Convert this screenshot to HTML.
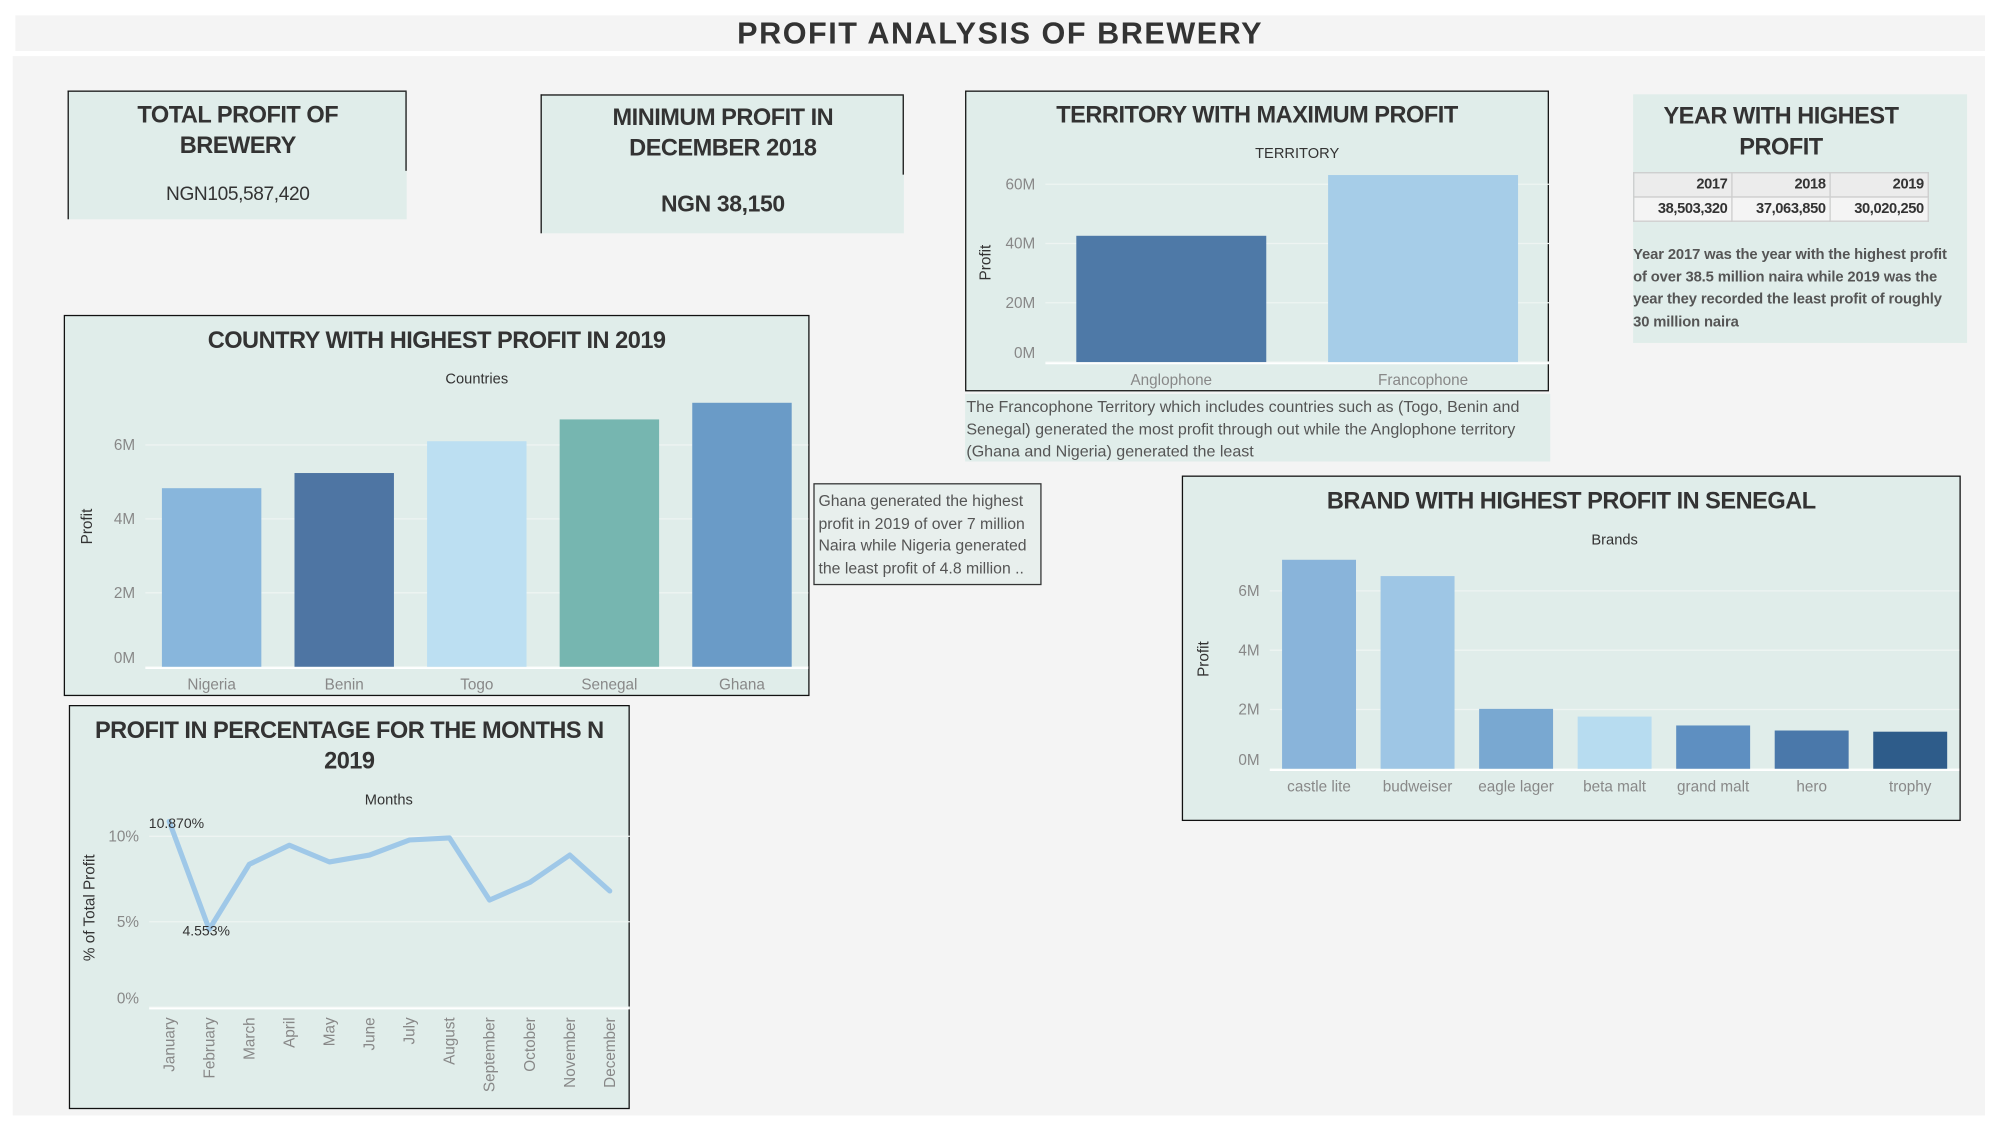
<!DOCTYPE html>
<html><head><meta charset="utf-8">
<style>
html,body{margin:0;padding:0;background:#fff;width:1999px;height:1124px;overflow:hidden}
#root{position:absolute;left:0;top:0;width:1568px;height:882px;transform:scale(1.27487);transform-origin:0 0;font-family:"Liberation Sans",sans-serif;color:#333}
.abs{position:absolute}
.card{position:absolute;background:#e0edea;box-sizing:border-box}
.t{position:absolute;left:-20px;right:-20px;text-align:center;font-weight:bold;font-size:18.5px;letter-spacing:-0.4px;color:#333;line-height:24px;white-space:nowrap}
.note{position:absolute;font-size:12.6px;line-height:17.5px;color:#555;box-sizing:border-box;padding:2px 3px;white-space:nowrap}
svg text{font-family:"Liberation Sans","DejaVu Sans",sans-serif}
</style></head><body>
<div id="root">
<div class="abs" style="left:12px;top:12px;width:1545px;height:28px;background:#f4f4f4"></div>
<div class="abs" style="left:12px;top:13px;width:1545px;text-align:center;font-weight:bold;font-size:24px;line-height:28px;color:#333;letter-spacing:1.2px">PROFIT ANALYSIS OF BREWERY</div>
<div class="abs" style="left:10px;top:44px;width:1547px;height:831px;background:#f4f4f4"></div>

<div class="card" style="left:53px;top:71px;width:266px;height:101px;border-top:1px solid #111;border-left:1px solid #111">
  <div class="abs" style="right:0;top:0;width:1px;height:62px;background:#111"></div>
  <div class="t" style="top:6px">TOTAL PROFIT OF<br>BREWERY</div>
  <div class="abs" style="left:0;right:0;top:72px;text-align:center;font-size:15px;letter-spacing:-0.3px">NGN105,587,420</div>
</div>
<div class="card" style="left:424px;top:74px;width:285px;height:109px;border-top:1px solid #111;border-left:1px solid #111">
  <div class="abs" style="right:0;top:0;width:1px;height:62px;background:#111"></div>
  <div class="t" style="top:5px">MINIMUM PROFIT IN<br>DECEMBER 2018</div>
  <div class="abs" style="left:0;right:0;top:75px;text-align:center;font-size:18px;font-weight:bold;letter-spacing:-0.3px">NGN 38,150</div>
</div>
<div class="card" style="left:757px;top:71px;width:458px;height:236px;border:1px solid #111">
  <div class="t" style="top:6px">TERRITORY WITH MAXIMUM PROFIT</div>
</div>
<svg id="terrSvg" class="abs" style="left:757px;top:71px" width="460" height="240"></svg>
<div class="note" style="left:757px;top:309px;width:459px;height:53px;background:#e0edea;overflow:hidden;padding-left:1px">The Francophone Territory which includes countries such as (Togo, Benin and<br>Senegal) generated the most profit through out while the Anglophone territory<br>(Ghana and Nigeria) generated the least</div>

<div class="card" style="left:1281px;top:74px;width:262px;height:195px">
  <div class="t" style="top:5px;left:-30px;right:0">YEAR WITH HIGHEST<br>PROFIT</div>
  <table style="position:absolute;left:0;top:61px;border-collapse:collapse;font-size:11.5px;letter-spacing:-0.3px;font-weight:bold;color:#333">
    <tr style="background:#ececec"><td style="width:70px;border:1px solid #ccc;text-align:right;padding:1px 3px;height:16px">2017</td><td style="width:70px;border:1px solid #ccc;text-align:right;padding:1px 3px">2018</td><td style="width:70px;border:1px solid #ccc;text-align:right;padding:1px 3px">2019</td></tr>
    <tr style="background:#f4f4f4"><td style="border:1px solid #ccc;text-align:right;padding:1px 3px;height:16px">38,503,320</td><td style="border:1px solid #ccc;text-align:right;padding:1px 3px">37,063,850</td><td style="border:1px solid #ccc;text-align:right;padding:1px 3px">30,020,250</td></tr>
  </table>
  <div class="note" style="left:-1px;top:115px;width:264px;font-weight:bold;font-size:11.6px;letter-spacing:-0.1px;color:#555;overflow:hidden;padding-left:1px">Year 2017 was the year with the highest profit<br>of over 38.5 million naira while 2019 was the<br>year they recorded the least profit of roughly<br>30 million naira</div>
</div>

<div class="card" style="left:50px;top:247px;width:585px;height:299px;border:1px solid #111">
  <div class="t" style="top:7px">COUNTRY WITH HIGHEST PROFIT IN 2019</div>
</div>
<svg id="ctrySvg" class="abs" style="left:50px;top:247px" width="590" height="300"></svg>
<div class="note" style="left:638px;top:379px;width:179px;height:80px;background:#e8efed;border:1px solid #333;color:#555;padding:5px 3px;font-size:12.4px;overflow:hidden">Ghana generated the highest<br>profit in 2019 of over 7 million<br>Naira while Nigeria generated<br>the least profit of 4.8 million ..</div>

<div class="card" style="left:54px;top:553px;width:440px;height:317px;border:1px solid #111">
  <div class="t" style="top:7px;left:-40px;right:-40px">PROFIT IN PERCENTAGE FOR THE MONTHS N<br>2019</div>
</div>
<svg id="monSvg" class="abs" style="left:54px;top:553px" width="445" height="320"></svg>

<div class="card" style="left:927px;top:373px;width:611px;height:271px;border:1px solid #111">
  <div class="t" style="top:7px">BRAND WITH HIGHEST PROFIT IN SENEGAL</div>
</div>
<svg id="brandSvg" class="abs" style="left:927px;top:373px" width="615" height="275"></svg>
</div>

<script>
const territoryCats = ["Anglophone","Francophone"];
const territoryVals = [42.6, 63.1];
const territoryTicks = [0,20,40,60];
const countryCats = ["Nigeria","Benin","Togo","Senegal","Ghana"];
const countryVals = [4.83, 5.24, 6.1, 6.69, 7.14];
const countryTicks = [0,2,4,6];
const brandCats = ["castle lite","budweiser","eagle lager","beta malt","grand malt","hero","trophy"];
const brandVals = [7.05, 6.5, 2.02, 1.76, 1.46, 1.29, 1.25];
const brandTicks = [0,2,4,6];
const monthCats = ["January","February","March","April","May","June","July","August","September","October","November","December"];
const monthVals = [10.87, 4.553, 8.36, 9.48, 8.5, 8.9, 9.78, 9.9, 6.27, 7.3, 8.9, 6.8];
const monthTicks = [0,5,10];

const NS="http://www.w3.org/2000/svg";
function mk(svg,tag,attrs,txt){const e=document.createElementNS(NS,tag);for(const k in attrs)e.setAttribute(k,attrs[k]);if(txt!==undefined)e.textContent=txt;svg.appendChild(e);return e;}

function barChart(svgId,cats,vals,ticks,colors,cfg,prefix){
  const svg=document.getElementById(svgId);
  const y=v=>cfg.y0-v/cfg.step*cfg.stepPx;
  const band=(cfg.x1-cfg.x0)/cats.length;
  const x=i=>cfg.x0+band*i;
  const hdr=mk(svg,'text',{x:(cfg.x0+cfg.x1)/2,y:cfg.hdrY,'text-anchor':'middle','font-size':11.5,fill:'#333'},cfg.hdr);
  
  
  ticks.forEach(t=>{
    const g=mk(svg,'line',{x1:cfg.x0,x2:cfg.x1,y1:y(t),y2:y(t),stroke:'#eef4f2','stroke-width':1});
    
    
    const l=mk(svg,'text',{x:cfg.x0-8,y:y(t)+(t===0?-3:4),'text-anchor':'end','font-size':12,fill:'#888'},t+cfg.unit);
    
    
  });
  mk(svg,'line',{x1:cfg.x0,x2:cfg.x1,y1:cfg.y0+1,y2:cfg.y0+1,stroke:'#fff','stroke-width':1.5});
  cats.forEach((c,i)=>{
    const r=mk(svg,'rect',{x:x(i)+(band-cfg.bw)/2,y:y(vals[i]),width:cfg.bw,height:cfg.y0-y(vals[i]),fill:colors[i]});
    
    
    const l=mk(svg,'text',{x:x(i)+band/2,y:cfg.y0+18,'text-anchor':'middle','font-size':12,fill:'#888'},c);
    
    
  });
  const yt=mk(svg,'text',{x:0,y:0,'text-anchor':'middle','font-size':12,fill:'#333',transform:`translate(${cfg.ytX},${cfg.ytY}) rotate(-90)`},'Profit');
  
  
}

barChart('terrSvg',territoryCats,territoryVals,territoryTicks,['#4e79a7','#a6cde8'],
  {x0:63,x1:458,y0:213,step:20,stepPx:46.5,bw:149,hdr:'TERRITORY',hdrY:53,unit:'M',ytX:20,ytY:135},'territory');
barChart('ctrySvg',countryCats,countryVals,countryTicks,['#88b6dc','#4e75a3','#bcdff2','#76b6b0','#6a9bc7'],
  {x0:64,x1:584,y0:276,step:2,stepPx:58,bw:78,hdr:'Countries',hdrY:54,unit:'M',ytX:22,ytY:166},'country');
barChart('brandSvg',brandCats,brandVals,brandTicks,['#89b4da','#9ec6e5','#79a8d1','#b7dcf0','#5e8fc1','#4a78aa','#2e5c8a'],
  {x0:69,x1:610,y0:230,step:2,stepPx:46.5,bw:58,hdr:'Brands',hdrY:54,unit:'M',ytX:21,ytY:144},'brand');

(function(){
  const svg=document.getElementById('monSvg');
  const x0=63,x1=440,y0=237,pxPer=13.4;
  const y=v=>y0-v*pxPer;
  const step=(x1-x0)/monthCats.length;
  const x=i=>x0+step*(i+0.5);
  const hdr=mk(svg,'text',{x:251,y:78,'text-anchor':'middle','font-size':11.5,fill:'#333'},'Months');
  
  
  monthTicks.forEach(t=>{
    const g=mk(svg,'line',{x1:x0,x2:x1,y1:y(t),y2:y(t),stroke:'#eef4f2','stroke-width':1});
    
    
    const l=mk(svg,'text',{x:x0-8,y:y(t)+(t===0?-3:4),'text-anchor':'end','font-size':12,fill:'#888'},t+'%');
    
    
  });
  mk(svg,'line',{x1:x0,x2:x1,y1:y0+1,y2:y0+1,stroke:'#fff','stroke-width':1.5});
  const pts=monthVals.map((v,i)=>x(i).toFixed(1)+','+y(v).toFixed(1)).join(' ');
  const pl=mk(svg,'polyline',{points:pts,fill:'none',stroke:'#9fc8e8','stroke-width':4,'stroke-linejoin':'round','stroke-linecap':'round'});
  
  
  monthCats.forEach((c,i)=>{
    const l=mk(svg,'text',{x:0,y:0,'text-anchor':'end','font-size':12,fill:'#888',transform:`translate(${x(i)+4},${y0+8}) rotate(-90)`},c);
    
    
  });
  let mx=0,mn=0;monthVals.forEach((v,i)=>{if(v>monthVals[mx])mx=i;if(v<monthVals[mn])mn=i;});
  const a=mk(svg,'text',{x:x(mx)-16,y:y(monthVals[mx])+5,'font-size':11,fill:'#333'},monthVals[mx].toFixed(3)+'%');
  
  
  const b=mk(svg,'text',{x:x(mn)-21,y:y(monthVals[mn])+5,'font-size':11,fill:'#333'},monthVals[mn].toFixed(3)+'%');
  
  
  const yt=mk(svg,'text',{x:0,y:0,'text-anchor':'middle','font-size':12,fill:'#333',transform:'translate(20,159) rotate(-90)'},'% of Total Profit');
  
  
})();
</script>
</body></html>
